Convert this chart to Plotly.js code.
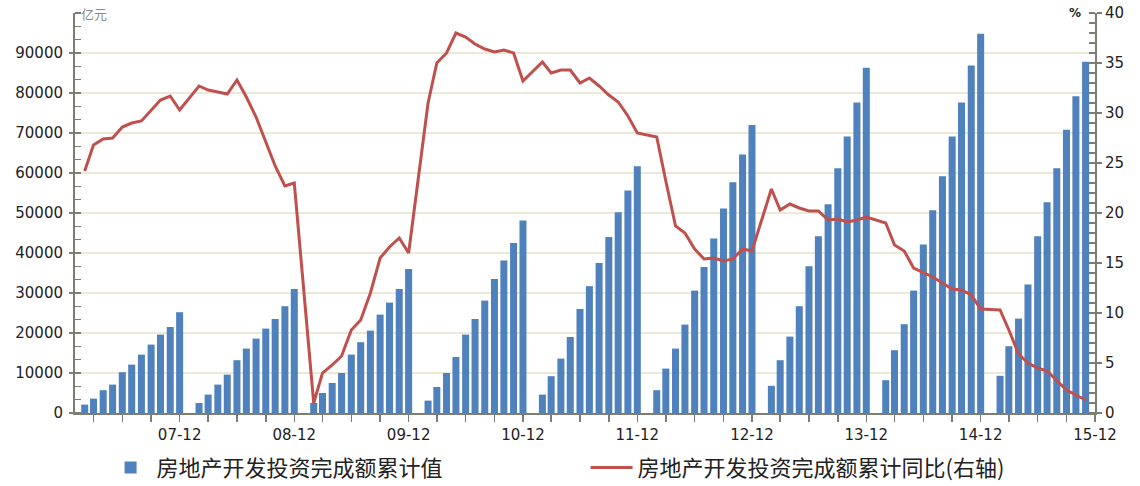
<!DOCTYPE html>
<html>
<head>
<meta charset="utf-8">
<script src="https://cdn.plot.ly/plotly-3.0.1.min.js"></script>
<style>
  html, body { margin: 0; padding: 0; background: #ffffff; }
  #chart { width: 1140px; height: 486px; }
</style>
</head>
<body>
<div id="chart"></div>
<script>
// ---- data ----
const years = [2007, 2008, 2009, 2010, 2011, 2012, 2013, 2014, 2015];
const monthsFull = [2, 3, 4, 5, 6, 7, 8, 9, 10, 11, 12];   // Jan-Feb reported together in Feb
const months2015 = [2, 3, 4, 5, 6, 7, 8, 9, 10, 11];

// 房地产开发投资完成额累计值 (亿元)
const invest2007 = [2100, 3600, 5700, 7100, 10200, 12100, 14600, 17100, 19600, 21500, 25200];
const invest2008 = [2500, 4600, 7100, 9600, 13200, 16100, 18600, 21100, 23500, 26700, 31000];
const invest2009 = [2500, 5000, 7500, 10000, 14600, 17700, 20600, 24600, 27600, 31000, 36000];
const invest2010 = [3100, 6500, 10000, 14000, 19600, 23500, 28100, 33500, 38100, 42500, 48100];
const invest2011 = [4600, 9200, 13600, 19000, 26000, 31700, 37500, 44000, 50200, 55600, 61700];
const invest2012 = [5700, 11100, 16100, 22100, 30600, 36500, 43600, 51100, 57700, 64600, 72000];
const invest2013 = [6800, 13200, 19100, 26700, 36700, 44200, 52200, 61200, 69100, 77600, 86300];
const invest2014 = [8200, 15700, 22200, 30600, 42100, 50700, 59200, 69100, 77600, 86900, 94800];
const invest2015 = [9300, 16700, 23600, 32100, 44200, 52700, 61200, 70800, 79200, 87800];

// 房地产开发投资完成额累计同比 (%)
const yoy2007 = [24.2, 26.8, 27.4, 27.5, 28.6, 29.0, 29.2, 30.3, 31.3, 31.7, 30.3];
const yoy2008 = [32.7, 32.3, 32.1, 31.9, 33.3, 31.6, 29.6, 27.2, 24.7, 22.7, 23.0];
const yoy2009 = [1.0, 4.0, 4.8, 5.7, 8.3, 9.3, 12.0, 15.5, 16.6, 17.5, 16.0];
const yoy2010 = [31.0, 35.0, 36.0, 38.0, 37.6, 36.9, 36.4, 36.1, 36.3, 36.0, 33.2];
const yoy2011 = [35.1, 34.0, 34.3, 34.3, 33.0, 33.5, 32.7, 31.8, 31.1, 29.7, 28.0];
const yoy2012 = [27.6, 23.2, 18.7, 18.0, 16.4, 15.4, 15.5, 15.2, 15.4, 16.4, 16.2];
const yoy2013 = [22.4, 20.3, 20.9, 20.5, 20.2, 20.2, 19.3, 19.4, 19.1, 19.3, 19.6];
const yoy2014 = [19.0, 16.8, 16.2, 14.5, 14.0, 13.6, 13.0, 12.4, 12.3, 11.8, 10.4];
const yoy2015 = [10.3, 8.3, 5.9, 5.0, 4.5, 4.2, 3.3, 2.3, 1.8, 1.3];

const tickDates = ['2007-12-01', '2008-12-01', '2009-12-01', '2010-12-01', '2011-12-01',
                   '2012-12-01', '2013-12-01', '2014-12-01', '2015-12-01'];
const tickLabels = ['07-12', '08-12', '09-12', '10-12', '11-12', '12-12', '13-12', '14-12', '15-12'];
const leftTicks = [0, 10000, 20000, 30000, 40000, 50000, 60000, 70000, 80000, 90000];
const rightTicks = [0, 5, 10, 15, 20, 25, 30, 35, 40];

const seriesBarName = '房地产开发投资完成额累计值';
const seriesLineName = '房地产开发投资完成额累计同比(右轴)';

// ---- assemble ----
const investByYear = [invest2007, invest2008, invest2009, invest2010, invest2011,
                      invest2012, invest2013, invest2014, invest2015];
const yoyByYear = [yoy2007, yoy2008, yoy2009, yoy2010, yoy2011,
                   yoy2012, yoy2013, yoy2014, yoy2015];
const xDates = [], investVals = [], yoyVals = [];
years.forEach((yr, i) => {
  const ms = (yr === 2015) ? months2015 : monthsFull;
  ms.forEach((m, j) => {
    xDates.push(yr + '-' + String(m).padStart(2, '0') + '-01');
    investVals.push(investByYear[i][j]);
    yoyVals.push(yoyByYear[i][j]);
  });
});

const axisColor = '#7d7d72';
const tickFont = { family: 'DejaVu Sans, Verdana, sans-serif', size: 15, color: '#222222' };

const traces = [
  {
    type: 'bar',
    name: seriesBarName,
    x: xDates,
    y: investVals,
    marker: { color: '#4F81BD', line: { width: 0 } },
    yaxis: 'y',
    hoverinfo: 'x+y'
  },
  {
    type: 'scatter',
    mode: 'lines',
    name: seriesLineName,
    x: xDates,
    y: yoyVals,
    line: { color: '#C0504D', width: 3 },
    yaxis: 'y2',
    hoverinfo: 'x+y'
  }
];

const layout = {
  width: 1140,
  height: 486,
  margin: { l: 75, r: 45, t: 13, b: 73, autoexpand: false },
  paper_bgcolor: '#ffffff',
  plot_bgcolor: '#ffffff',
  bargap: 0.2,
  showlegend: true,
  legend: {
    orientation: 'h',
    x: 0.029, xanchor: 'left',
    y: -0.137, yanchor: 'middle',
    font: { family: 'Noto Sans CJK SC, sans-serif', size: 22, color: '#222222' },
    itemwidth: 42,
    entrywidth: 424,
    entrywidthmode: 'pixels',
    bgcolor: 'rgba(0,0,0,0)',
    traceorder: 'normal'
  },
  xaxis: {
    type: 'date',
    range: ['2007-01-01', '2015-12-01'],
    tickmode: 'array',
    tickvals: tickDates,
    ticktext: tickLabels,
    ticks: 'outside',
    ticklen: 7,
    tickwidth: 1.5,
    tickcolor: axisColor,
    showline: true,
    linecolor: axisColor,
    linewidth: 2,
    showgrid: false,
    zeroline: false,
    tickfont: tickFont,
    minor: { tickmode: 'linear', tick0: '2007-03-01', dtick: 'M3', ticks: 'outside', ticklen: 7, tickwidth: 1.5, tickcolor: axisColor, showgrid: false }
  },
  yaxis: {
    range: [0, 100000],
    tickmode: 'array',
    tickvals: leftTicks,
    ticktext: leftTicks.map(String),
    ticks: 'outside',
    ticklen: 4,
    tickwidth: 1.5,
    tickcolor: axisColor,
    showline: true,
    linecolor: axisColor,
    linewidth: 2,
    showgrid: true,
    gridcolor: '#ECE9D6',
    gridwidth: 1.5,
    zeroline: false,
    tickfont: tickFont,
    ticklabelstandoff: 3,
    minor: { tickmode: 'linear', tick0: 0, dtick: 10000 / 3, ticks: 'inside', ticklen: 6, tickwidth: 1.5, tickcolor: axisColor, showgrid: false }
  },
  yaxis2: {
    overlaying: 'y',
    side: 'right',
    range: [0, 40],
    tickmode: 'array',
    tickvals: rightTicks,
    ticktext: rightTicks.map(String),
    ticks: 'outside',
    ticklen: 5,
    tickwidth: 1.5,
    tickcolor: axisColor,
    showline: true,
    linecolor: axisColor,
    linewidth: 2,
    showgrid: false,
    zeroline: false,
    tickfont: tickFont,
    minor: { tickmode: 'linear', tick0: 0, dtick: 1, ticks: 'inside', ticklen: 6, tickwidth: 1.5, tickcolor: axisColor, showgrid: false }
  },
  annotations: [
    {
      xref: 'paper', yref: 'paper', x: 0.004, y: 1.0, xanchor: 'left', yanchor: 'middle',
      text: '亿元', showarrow: false,
      font: { family: 'Noto Sans CJK SC, sans-serif', size: 13, color: '#8a8a8a' }
    },
    {
      xref: 'paper', yref: 'paper', x: 0.988, y: 1.0, xanchor: 'right', yanchor: 'middle',
      text: '<b>%</b>', showarrow: false,
      font: { family: 'DejaVu Sans, sans-serif', size: 12, color: '#222222' }
    }
  ]
};

Plotly.newPlot('chart', traces, layout, { displayModeBar: false, staticPlot: true });
</script>
</body>
</html>
